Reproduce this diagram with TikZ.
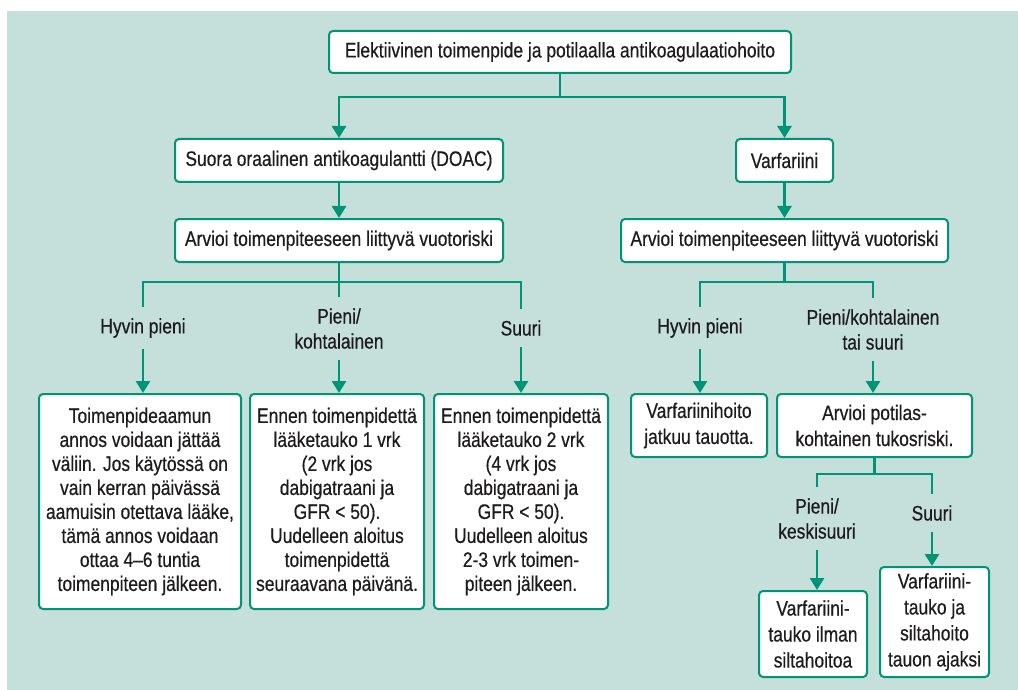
\documentclass[tikz,border=0pt]{standalone}
\usepackage{fontspec}
\setmainfont{Liberation Sans}[FakeStretch=0.83, FakeBold=0.5]
\usepackage{tikz}
\usetikzlibrary{arrows.meta}

\definecolor{bgteal}{RGB}{197,224,219}
\definecolor{lineteal}{RGB}{0,148,118}
\definecolor{inkgray}{RGB}{30,27,28}

\begin{document}
\begin{tikzpicture}[x=1pt, y=-1pt,
  box/.style={draw=lineteal, line width=2pt, fill=white, rounded corners=4pt,
    align=center, inner sep=0pt, text=inkgray, font=\fontsize{21}{24}\selectfont},
  tallbox/.style={box, font=\fontsize{21}{26}\selectfont},
  lbl/.style={align=center, inner sep=0pt, outer sep=11pt, text=inkgray,
    font=\fontsize{21}{25}\selectfont},
  link/.style={draw=lineteal, line width=2.7pt},
  arr/.style={link, -{Triangle[width=14pt,length=12pt]}}]
% Background
\useasboundingbox (0,0) rectangle (1018,690);
\fill[bgteal] (7,11) rectangle (1018,690);

% Top level
\node[box, minimum width=462pt, minimum height=42pt] (top) at (560,52)
  {Elektiivinen toimenpide ja potilaalla antikoagulaatiohoito};
\node[box, minimum width=328pt, minimum height=43pt] (doac) at (339,160.5)
  {Suora oraalinen antikoagulantti (DOAC)};
\node[box, minimum width=97pt, minimum height=43pt] (varf) at (784.5,160.5)
  {Varfariini};
\coordinate (s0) at (560,97);
\draw[link] (top) -- (s0);
\draw[arr] (s0) -| (doac);
\draw[arr] (s0) -| (varf);

% Bleeding risk
\node[box, minimum width=328pt, minimum height=43pt] (riskd) at (339,240.5)
  {Arvioi toimenpiteeseen liittyvä vuotoriski};
\node[box, minimum width=327pt, minimum height=43pt] (riskv) at (784.5,240.5)
  {Arvioi toimenpiteeseen liittyvä vuotoriski};
\draw[arr] (doac) -- (riskd);
\draw[arr] (varf) -- (riskv);

% --- DOAC branch ---
\node[lbl] (dlow) at (143,328) {Hyvin pieni};
\node[lbl] (dmid) at (339,328.5) {Pieni/\\kohtalainen};
\node[lbl] (dhigh) at (521,328) {Suuri};
\coordinate (s1) at (339,282);
\draw[link] (riskd) -- (s1);
\draw[link] (dlow.north) |- (s1) -| (dhigh.north);
\draw[link] (s1) -- (dmid.north);

\node[box, minimum width=202pt, minimum height=215pt] (dlowbox) at (140,501.5)
  {Toimenpideaamun\\annos voidaan jättää\\väliin. Jos käytössä on\\vain kerran päivässä\\aamuisin otettava lääke,\\tämä annos voidaan\\ottaa 4–6 tuntia\\toimenpiteen jälkeen.};
\node[box, minimum width=174pt, minimum height=215pt] (dmidbox) at (337,501.5)
  {Ennen toimenpidettä\\lääketauko 1 vrk\\(2 vrk jos\\dabigatraani ja\\GFR < 50).\\Uudelleen aloitus\\toimenpidettä\\seuraavana päivänä.};
\node[box, minimum width=174pt, minimum height=215pt] (dhighbox) at (521,501.5)
  {Ennen toimenpidettä\\lääketauko 2 vrk\\(4 vrk jos\\dabigatraani ja\\GFR < 50).\\Uudelleen aloitus\\2-3 vrk toimen-\\piteen jälkeen.};
\draw[arr] (dlow) -- (dlow |- dlowbox.north);
\draw[arr] (dmid) -- (dmid |- dmidbox.north);
\draw[arr] (dhigh) -- (dhigh |- dhighbox.north);

% --- Warfarin branch ---
\node[lbl] (vlow) at (700,328) {Hyvin pieni};
\node[lbl] (vhigh) at (873,329.5) {Pieni/kohtalainen\\tai suuri};
\coordinate (s2) at (784.5,282);
\draw[link] (riskv) -- (s2);
\draw[link] (vlow.north) |- (s2) -| (vhigh.north);

\node[tallbox, minimum width=136pt, minimum height=63pt] (vlowbox) at (699,425.5)
  {Varfariinihoito\\jatkuu tauotta.};
\node[tallbox, minimum width=195pt, minimum height=63pt] (thrombo) at (874.5,425.5)
  {Arvioi potilas-\\kohtainen tukosriski.};
\draw[arr] (vlow) -- (vlow |- vlowbox.north);
\draw[arr] (vhigh) -- (vhigh |- thrombo.north);

% Thrombosis risk
\node[lbl] (tlow) at (817,518.5) {Pieni/\\keskisuuri};
\node[lbl] (thigh) at (932,513) {Suuri};
\coordinate (s3) at (874.5,474);
\draw[link] (thrombo) -- (s3);
\draw[link] (tlow.north) |- (s3) -| (thigh.north);

\node[tallbox, minimum width=108pt, minimum height=86pt] (tlowbox) at (813,634)
  {Varfariini-\\tauko ilman\\siltahoitoa};
\node[tallbox, minimum width=109pt, minimum height=110pt] (thighbox) at (934.5,622)
  {Varfariini-\\tauko ja\\siltahoito\\tauon ajaksi};
\draw[arr] (tlow) -- (tlow |- tlowbox.north);
\draw[arr] (thigh) -- (thigh |- thighbox.north);
\end{tikzpicture}
\end{document}
